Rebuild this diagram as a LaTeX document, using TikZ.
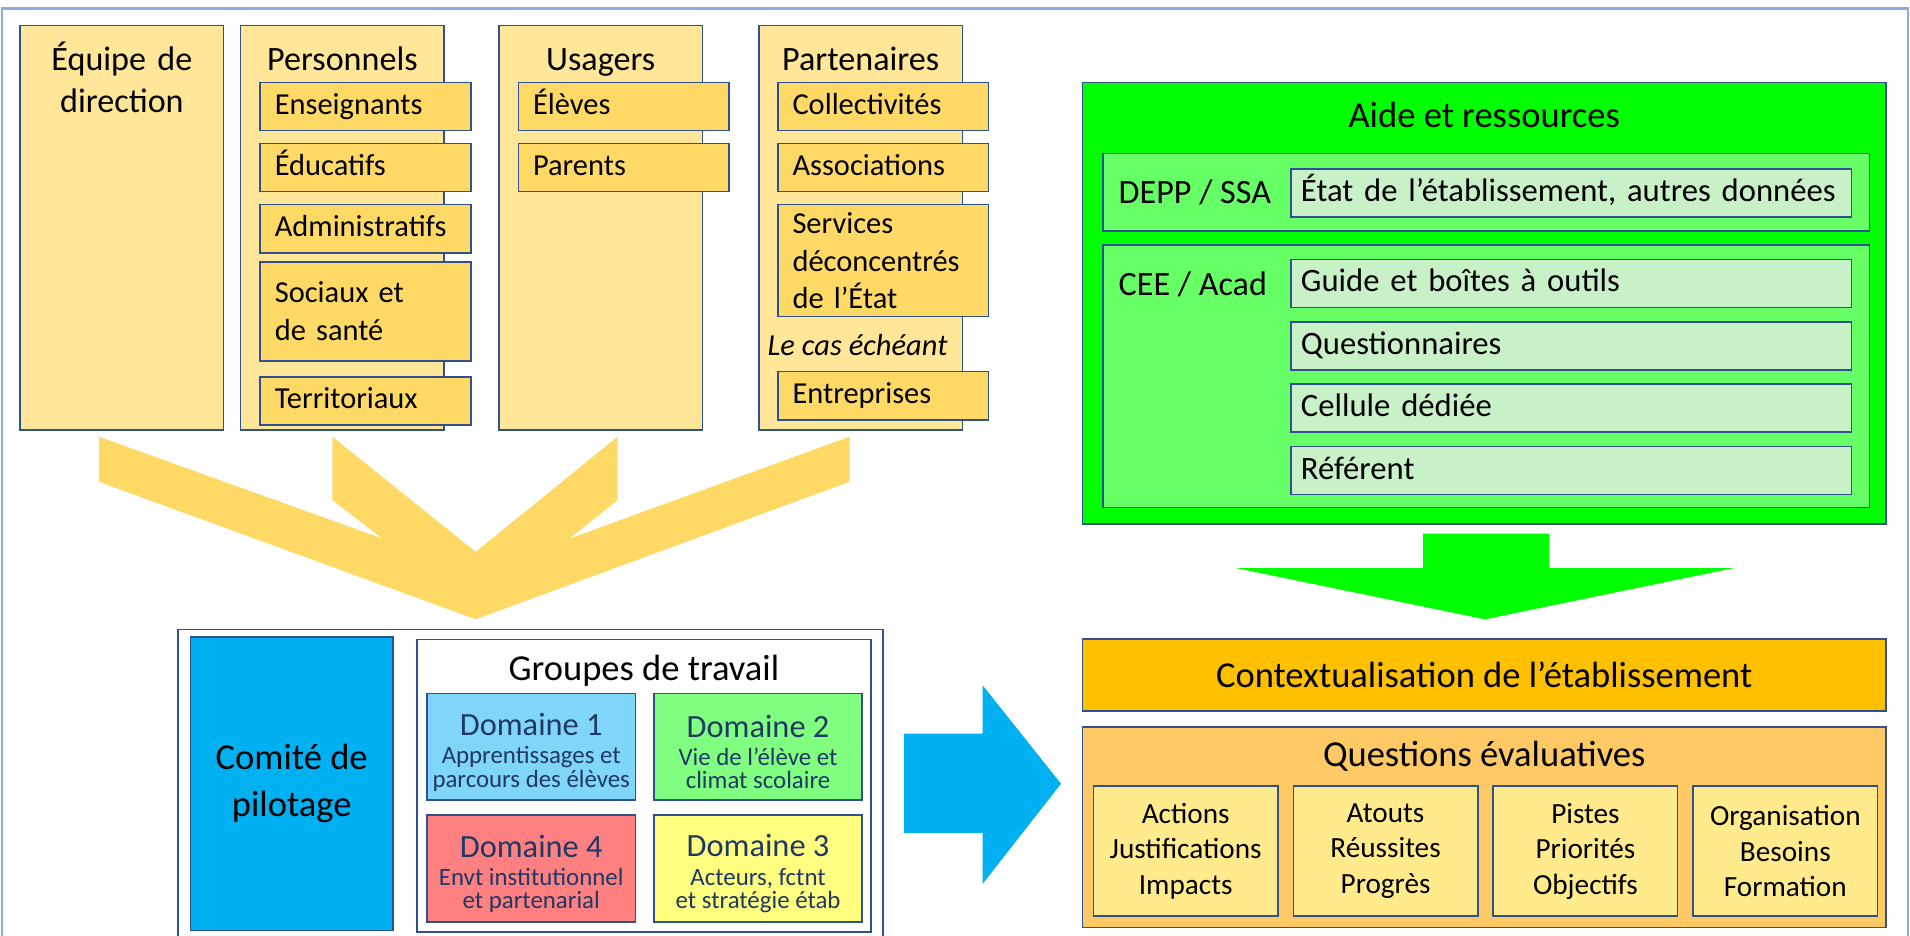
\documentclass[tikz,border=0pt]{standalone}
\usepackage{fontspec}
\setmainfont{Carlito}
\usepackage{tikz}
\usetikzlibrary{positioning}
\definecolor{lineblue}{RGB}{47,82,143}
\definecolor{frameblue}{RGB}{143,170,220}
\definecolor{colfill}{RGB}{255,230,153}
\definecolor{subfill}{RGB}{255,217,102}
\definecolor{aidegreen}{RGB}{0,255,0}
\definecolor{midgreen}{RGB}{102,255,102}
\definecolor{palegreen}{RGB}{200,241,200}
\definecolor{pilotblue}{RGB}{0,176,240}
\definecolor{domA}{RGB}{128,214,248}
\definecolor{domB}{RGB}{128,255,128}
\definecolor{domC}{RGB}{255,255,128}
\definecolor{domD}{RGB}{255,128,128}
\definecolor{domtext}{RGB}{31,56,100}
\definecolor{ctxorange}{RGB}{255,192,0}
\definecolor{qfill}{RGB}{255,201,102}
\definecolor{qitem}{RGB}{255,235,140}
\newcommand{\fBig}{\fontsize{15}{19.3}\selectfont}
\newcommand{\fCol}{\fontsize{14}{17.5}\selectfont}
\newcommand{\fSub}{\fontsize{12.5}{15.5}\selectfont}
\newcommand{\fItem}{\fontsize{13.4}{16}\selectfont}
\newcommand{\fQ}{\fontsize{12}{14.6}\selectfont}
\newcommand{\fDom}{\fontsize{13.3}{13.3}\selectfont\rule{0pt}{13.5pt}}
\newcommand{\fDomSub}{\fontsize{10.2}{9.6}\selectfont}
\tikzset{node distance=4.75pt, auto}
\tikzset{
	box/.style={draw=lineblue, line width=0.6pt, inner sep=0pt, anchor=north west},
	colbox/.style={box, fill=colfill, minimum width=83.5pt, minimum height=166pt},
	coltitle/.style={anchor=base, text width=82pt, align=center, inner sep=0pt, font=\fCol},
	subbox/.style={box, fill=subfill, minimum width=86.5pt, minimum height=19.75pt, text width=74.5pt, inner xsep=6pt, align=left, font=\fSub, text height=9.5pt, text depth=3pt},
	subboxm/.style={subbox, text height={}, text depth={}},
	wide/.style={box, minimum width=329.85pt},
	greenbox/.style={box, fill=midgreen, minimum width=314.6pt},
	itembox/.style={box, fill=palegreen, minimum width=230pt, minimum height=19.7pt, text width=222pt, inner xsep=4pt, align=left, font=\fItem, text height=10pt, text depth=3pt},
	dombox/.style={box, minimum width=85.5pt, minimum height=43.85pt, align=center, text=domtext, font=\fDomSub},
	qbox/.style={box, fill=qitem, minimum width=75.75pt, minimum height=53.4pt, align=center, font=\fQ},
}

\begin{document}
\begin{tikzpicture}[x=0.5pt, y=-0.5pt]
	\useasboundingbox (0,0) rectangle (1568,768);
	\draw[frameblue, line width=1pt] (1.5,6.8) rectangle (1566.5,800);
	\fill[subfill] (81.2,358.5) -- (313.7,442) -- (272.8,410.5) -- (272.8,358.5) -- (390.5,453) -- (507,358.5) -- (507,410.5) -- (467.8,442) -- (697.5,358.5) -- (697.5,395.5) -- (390.5,508.4) -- (81.2,395.5) -- cycle;
	\fill[aidegreen] (1168.3,438) -- (1272,438) -- (1272,466.4) -- (1423,466.4) -- (1219,508.4) -- (1015,466.4) -- (1168.3,466.4) -- cycle;
	\fill[pilotblue] (742.3,602.3) -- (806.7,602.3) -- (806.7,562.6) -- (871,643.4) -- (806.7,725.6) -- (806.7,683.7) -- (742.3,683.7) -- cycle;

	\node (Eq) 		[colbox] at (16,20.5) 		{};
	\node (Pe) 		[colbox] at (197,20.5) 	{};
	\node (Us) 		[colbox] at (409,20.5) 	{};
	\node (Pa) 		[colbox] at (622.5,20.5) 	{};
	\node (EqT) 	[coltitle] at ([yshift=-18.5pt]Eq.north) 	{Équipe de\\direction};
	\node (PeT) 	[coltitle] at ([yshift=-18.5pt]Pe.north) 	{Personnels};
	\node (UsT) 	[coltitle] at ([yshift=-18.5pt]Us.north) 	{Usagers};
	\node (PaT) 	[coltitle] at ([yshift=-18.5pt]Pa.north) 	{Partenaires};

	\node (Ens) 	[subbox] at (213,67) 		{Enseignants};
	\node (Edu) 	[subbox, below=of Ens] 	{Éducatifs};
	\node (Adm) 	[subbox, below=of Edu] 	{Administratifs};
	\node (Soc) 	[subboxm, below=3.25pt of Adm, minimum height=40.5pt] 	{Sociaux et\\de santé};
	\node (Ter) 	[subbox, below=6pt of Soc] 	{Territoriaux};

	\node (Ele) 	[subbox] at (425,67) 		{Élèves};
	\node (Par) 	[subbox, below=of Ele] 	{Parents};

	\node (Col) 	[subbox] at (638,67) 		{Collectivités};
	\node (Ass) 	[subbox, below=of Col] 	{Associations};
	\node (Ser) 	[subboxm, below=of Ass, minimum height=46pt] 	{Services\\déconcentrés\\de l’État};
	\node (Cas) 	[font=\itshape\fSub, inner sep=0pt] at (704,283) 	{Le cas échéant};
	\node (Ent) 	[subbox] at (638,304.5) 	{Entreprises};

	\node (Aide) 	[wide, fill=aidegreen, minimum height=181.25pt] at (888,67) 	{};
	\node (AideT) 	[font=\fBig] at ([yshift=-13.5pt]Aide.north) 	{Aide et ressources};
	\node (Depp) 	[greenbox, minimum height=31.9pt] at (904.8,125.2) 	{};
	\node (DeppT) 	[anchor=west, inner sep=0pt, font=\fCol] at ([xshift=6.6pt]Depp.west) 	{DEPP / SSA};
	\node (Etat) 	[itembox] at (1059.4,138.3) 	{\mbox{État de l’établissement, autres données}};
	\node (Cee) 	[greenbox, minimum height=107.65pt] at (904.8,200.7) 	{};
	\node (CeeT) 	[anchor=west, inner sep=0pt, font=\fCol] at ([xshift=6.6pt, yshift=-16.25pt]Cee.north west) 	{CEE / Acad};
	\node (Gui) 	[itembox] at (1059.4,212.4) 	{Guide et boîtes à outils};
	\node (Que) 	[itembox, below=5.3pt of Gui] 	{Questionnaires};
	\node (Cel) 	[itembox, below=5.3pt of Que] 	{Cellule dédiée};
	\node (Ref) 	[itembox, below=5.3pt of Cel] 	{Référent};

	\node (Ctx) 	[wide, fill=ctxorange, minimum height=29.5pt, font=\fBig] at (888,524) 	{Contextualisation de l’établissement};
	\node (Qev) 	[wide, fill=qfill, minimum height=82.4pt] at (888,596.2) 	{};
	\node (QevT) 	[font=\fBig] at ([yshift=-12.25pt]Qev.north) 	{Questions évaluatives};
	\node (Q1) 		[qbox] at (897,644.7) 		{Actions\\Justifications\\Impacts};
	\node (Q2) 		[qbox, right=5.7pt of Q1] 	{Atouts\\Réussites\\Progrès};
	\node (Q3) 		[qbox, right=5.7pt of Q2] 	{Pistes\\Priorités\\Objectifs};
	\node (Q4) 		[qbox, right=5.7pt of Q3] 	{Organisation\\Besoins\\Formation};

	\node (Grp) 	[box, fill=white, minimum width=289.35pt, minimum height=140pt] at (145.7,516) 	{};
	\node (Copil) 	[box, fill=pilotblue, minimum width=83.15pt, minimum height=120.55pt, align=center, font=\fBig] at (155.7,522.3) 	{Comité de\\pilotage};
	\node (Gt) 		[box, fill=white, minimum width=186.3pt, minimum height=120.1pt] at (341.7,524.3) 	{};
	\node (GtT) 	[font=\fBig] at ([yshift=-13pt]Gt.north) 	{Groupes de travail};
	\node (D1) 		[dombox, fill=domA] at (350,568.6) 		{{\fDom Domaine 1}\\[2pt]Apprentissages et\\parcours des élèves};
	\node (D2) 		[dombox, fill=domB, right=7pt of D1] 	{{\fDom Domaine 2}\\[2pt]Vie de l’élève et\\climat scolaire};
	\node (D4) 		[dombox, fill=domD, below=5.5pt of D1] 	{{\fDom Domaine 4}\\[2pt]Envt institutionnel\\et partenarial};
	\node (D3) 		[dombox, fill=domC, right=7pt of D4] 	{{\fDom Domaine 3}\\[2pt]Acteurs, fctnt\\et stratégie étab};
\end{tikzpicture}
\end{document}
